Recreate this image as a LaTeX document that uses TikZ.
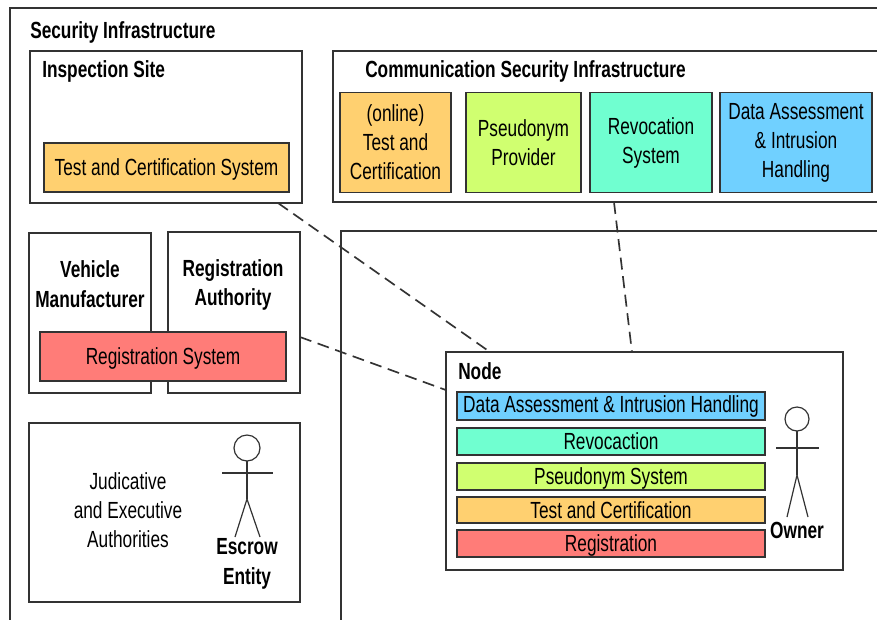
\documentclass[tikz,border=0pt]{standalone}
\usepackage{fontspec}
\setmainfont[FakeStretch=0.74]{Liberation Sans}
\usepackage{xcolor}
\usepackage{tikz}
\usetikzlibrary{positioning}
\definecolor{testcol}{HTML}{FFD070}
\definecolor{pseudocol}{HTML}{D0FF70}
\definecolor{revokecol}{HTML}{70FFD0}
\definecolor{datacol}{HTML}{70D0FF}
\definecolor{regcol}{HTML}{FF7C78}
\colorlet{linecol}{black!80}

\begin{document}
\begin{tikzpicture}[
x=.75pt,y=-.75pt,
BoxSize/.style 2 args={minimum width=#1*.75pt,minimum height=#2*.75pt},
MyBox/.style={draw=linecol,line width=1.1pt,fill=white,inner sep=0pt,outer sep=0pt,align=center,
  font=\fontsize{17.5}{21.8}\selectfont},
Bar/.style={MyBox,line width=1pt},
NoDepth/.style={text depth=0pt},
Title/.style={anchor=west,inner sep=0pt,font=\fontsize{17.5}{21.8}\selectfont\bfseries},
Plain/.style={inner sep=0pt,align=center,font=\fontsize{17.5}{21.5}\selectfont},
Strong/.style={Plain,font=\fontsize{17.5}{22.4}\selectfont\bfseries},
Head/.style={circle,draw=linecol,line width=.9pt,inner sep=0pt,outer sep=0pt},
Stick/.style={draw=linecol,line width=.9pt},
Link/.style={draw=linecol,line width=1.25pt,dash pattern=on 9pt off 5pt}
]
\useasboundingbox (0,0) rectangle (877,619);
\clip (0,0) rectangle (877,619);

% outer frames run past the edge of the page
\node[MyBox,BoxSize={900}{700}] (SecurityInfra) at (460,358) {};
\node[Title] (SecurityTitle) at (30,32) {Security Infrastructure};

\node[MyBox,BoxSize={600}{460}] (CarBox) at (641,461) {};

% top row
\node[MyBox,BoxSize={272}{152}] (InspectionSite) at (166,127) {};
\node[Title] (InspectionTitle) at (42,71) {Inspection Site};
\node[Bar,NoDepth,fill=testcol,BoxSize={245}{49}] (TestSystem) at (166.5,167.5) {Test and Certification System};

\node[MyBox,BoxSize={567}{151}] (CommInfra) at (616.5,126.5) {};
\node[Title] (CommTitle) at (365,71) {Communication Security Infrastructure};
\node[Bar,fill=testcol,BoxSize={111}{100}] (OnlineTest) at (395.5,142.5) {(online)\\Test and\\Certification};
\node[Bar,fill=pseudocol,BoxSize={115}{100}] (PseudoProvider) at (523.5,142.5) {Pseudonym\\Provider};
\node[Bar,fill=revokecol,BoxSize={122}{100}] (RevokeSystem) at (651,142.5) {Revocation\\System};
\node[Bar,fill=datacol,BoxSize={152}{100}] (DataHandling) at (796,142.5) {Data Assessment\\\& Intrusion\\Handling};

% registration
\node[MyBox,BoxSize={122}{160}] (Manufacturer) at (90,313) {};
\node[Strong] (ManufacturerText) at (90,284) {Vehicle\\Manufacturer};
\node[MyBox,BoxSize={132}{161}] (RegAuthority) at (234,312.5) {};
\node[Strong] (RegAuthorityText) at (233,285) {Registration\\Authority};
\node[Bar,NoDepth,fill=regcol,BoxSize={246}{49}] (RegSystem) at (163,356.5) {Registration System};

% authorities
\node[MyBox,BoxSize={271}{179}] (Authorities) at (164.5,512.5) {};
\node[Plain] (AuthoritiesText) at (128,510) {Judicative\\and Executive\\Authorities};
\node[Head,minimum size=19.5pt] (EscrowHead) at (247,448) {};
\coordinate (EscrowHip) at (247,499);
\draw[Stick] (EscrowHead) -- (EscrowHip);
\draw[Stick] (222,473) -- (273,473);
\draw[Stick] (235,537) -- (EscrowHip) -- (260,537);
\node[Strong] (EscrowText) at (247,564) {Escrow\\Entity};

% node
\node[MyBox,BoxSize={397}{218}] (NodeBox) at (644.5,461) {};
\node[Title] (NodeTitle) at (458,371) {Node};
\node[Bar,fill=datacol,BoxSize={308}{28}] (NodeData) at (611,406) {Data Assessment \& Intrusion Handling};
\node[Bar,fill=revokecol,BoxSize={308}{27}] (NodeRevoke) at (611,441.5) {Revocaction};
\node[Bar,NoDepth,fill=pseudocol,BoxSize={308}{27}] (NodePseudo) at (611,476.5) {Pseudonym System};
\node[Bar,fill=testcol,BoxSize={308}{26}] (NodeTest) at (611,510) {Test and Certification};
\node[Bar,NoDepth,fill=regcol,BoxSize={308}{27}] (NodeReg) at (611,543.5) {Registration};
\node[Head,minimum size=18pt] (OwnerHead) at (797,419) {};
\coordinate (OwnerHip) at (797,475);
\draw[Stick] (OwnerHead) -- (OwnerHip);
\draw[Stick] (776,448) -- (819,448);
\draw[Stick] (787,517) -- (OwnerHip) -- (808,517);
\node[Strong] (OwnerText) at (797,530) {Owner};

% links
\draw[Link] ([xshift=84pt]InspectionSite.south) -- ([xshift=-115.9pt]NodeBox.north);
\draw[Link] ([xshift=-1.9pt]CommInfra.south) -- ([xshift=-9.4pt]NodeBox.north);
\draw[Link] ([yshift=-18.4pt]RegAuthority.east) -- ([yshift=53.2pt]NodeBox.west);

\end{tikzpicture}
\end{document}
